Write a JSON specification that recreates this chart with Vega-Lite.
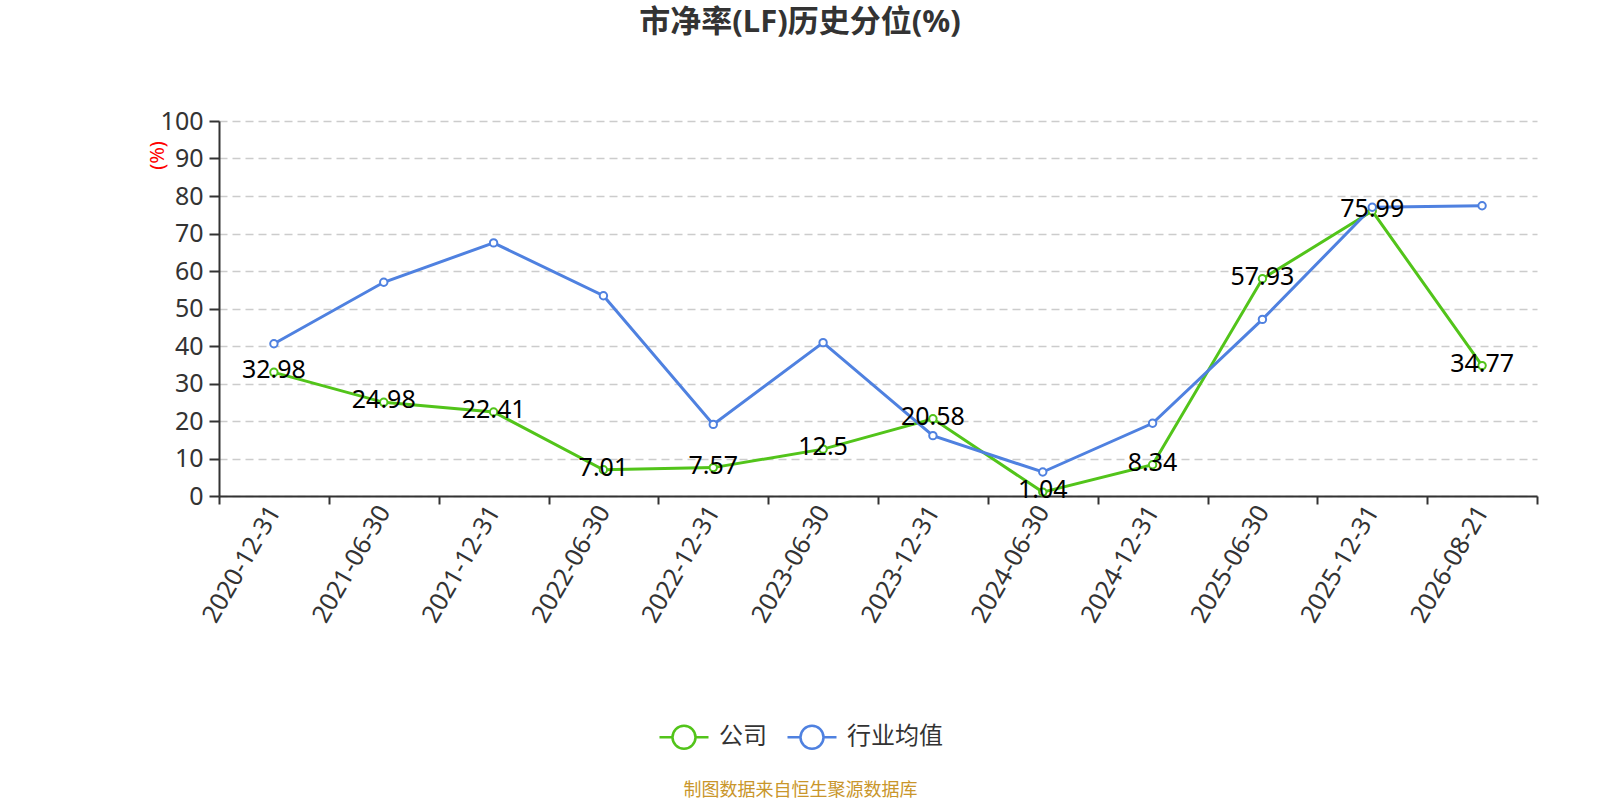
{
  "$schema": "https://vega.github.io/schema/vega-lite/v6.json",
  "width": 1318,
  "height": 375,
  "autosize": {"type": "none"},
  "padding": {"left": 219, "top": 121, "right": 63, "bottom": 304},
  "background": "#ffffff",
  "config": {
    "font": "Noto Sans, Noto Sans CJK SC, sans-serif",
    "view": {"stroke": null}
  },
  "title": {
    "text": "市净率(LF)历史分位(%)",
    "anchor": "middle",
    "frame": "group",
    "dx": -78,
    "offset": 70,
    "fontSize": 31,
    "fontWeight": "bold",
    "color": "#333333"
  },
  "data": {
    "values": [
      {"date": "2020-12-31", "series": "公司", "value": 32.98},
      {"date": "2021-06-30", "series": "公司", "value": 24.98},
      {"date": "2021-12-31", "series": "公司", "value": 22.41},
      {"date": "2022-06-30", "series": "公司", "value": 7.01},
      {"date": "2022-12-31", "series": "公司", "value": 7.57},
      {"date": "2023-06-30", "series": "公司", "value": 12.5},
      {"date": "2023-12-31", "series": "公司", "value": 20.58},
      {"date": "2024-06-30", "series": "公司", "value": 1.04},
      {"date": "2024-12-31", "series": "公司", "value": 8.34},
      {"date": "2025-06-30", "series": "公司", "value": 57.93},
      {"date": "2025-12-31", "series": "公司", "value": 75.99},
      {"date": "2026-08-21", "series": "公司", "value": 34.77},
      {"date": "2020-12-31", "series": "行业均值", "value": 40.6},
      {"date": "2021-06-30", "series": "行业均值", "value": 57.0},
      {"date": "2021-12-31", "series": "行业均值", "value": 67.5},
      {"date": "2022-06-30", "series": "行业均值", "value": 53.4},
      {"date": "2022-12-31", "series": "行业均值", "value": 19.1},
      {"date": "2023-06-30", "series": "行业均值", "value": 40.9},
      {"date": "2023-12-31", "series": "行业均值", "value": 16.1},
      {"date": "2024-06-30", "series": "行业均值", "value": 6.4},
      {"date": "2024-12-31", "series": "行业均值", "value": 19.4},
      {"date": "2025-06-30", "series": "行业均值", "value": 47.1},
      {"date": "2025-12-31", "series": "行业均值", "value": 77.0},
      {"date": "2026-08-21", "series": "行业均值", "value": 77.4}
    ]
  },
  "encoding": {
    "x": {
      "field": "date",
      "type": "ordinal",
      "sort": null,
      "bandPosition": 0.5,
      "scale": {"type": "band", "paddingInner": 0, "paddingOuter": 0},
      "axis": {
        "title": "制图数据来自恒生聚源数据库",
        "titleColor": "#c9962b",
        "titleFontSize": 18,
        "titleFontWeight": "normal",
        "titleX": 581,
        "titleY": 294,
        "titleAlign": "center",
        "titleBaseline": "middle",
        "labelAngle": -60,
        "labelFontSize": 25,
        "labelColor": "#333333",
        "labelPadding": 3,
        "tickBand": "extent",
        "tickSize": 8,
        "tickWidth": 2,
        "tickColor": "#333333",
        "domainColor": "#333333",
        "domainWidth": 2,
        "grid": false
      }
    },
    "y": {
      "field": "value",
      "type": "quantitative",
      "scale": {"domain": [0, 100], "nice": false},
      "axis": {
        "values": [0, 10, 20, 30, 40, 50, 60, 70, 80, 90, 100],
        "title": "(%)",
        "titleColor": "#ff0000",
        "titleFontSize": 20,
        "titleFontWeight": "normal",
        "titleAngle": -90,
        "titleX": -62,
        "titleY": 34,
        "titleAlign": "center",
        "titleBaseline": "middle",
        "labelFontSize": 25,
        "labelColor": "#333333",
        "labelPadding": 6,
        "tickSize": 10,
        "tickWidth": 2,
        "tickColor": "#333333",
        "domainColor": "#333333",
        "domainWidth": 2,
        "grid": true,
        "gridColor": "#cccccc",
        "gridWidth": 1.5,
        "gridDash": [8, 5]
      }
    }
  },
  "layer": [
    {
      "mark": {
        "type": "line",
        "strokeWidth": 3,
        "point": {"filled": false, "fill": "#ffffff", "size": 55, "strokeWidth": 2}
      },
      "encoding": {
        "color": {
          "field": "series",
          "type": "nominal",
          "scale": {"domain": ["公司", "行业均值"], "range": ["#52c41a", "#4f81e0"]},
          "legend": {
            "title": null,
            "orient": "none",
            "direction": "horizontal",
            "legendX": 439,
            "legendY": 590,
            "symbolType": "M-1,0L-0.47,0M0.47,0L1,0M0.47,0A0.47,0.47,0,1,1,-0.47,0A0.47,0.47,0,1,1,0.47,0",
            "symbolSize": 2401,
            "symbolStrokeWidth": 2.5,
            "symbolFillColor": "#ffffff",
            "labelFontSize": 24,
            "labelColor": "#333333",
            "labelOffset": 9,
            "columnPadding": 15
          }
        }
      }
    },
    {
      "transform": [{"filter": "datum.series === '公司'"}],
      "mark": {"type": "text", "fontSize": 25, "color": "#000000", "baseline": "middle", "dy": -2},
      "encoding": {"text": {"field": "value", "type": "quantitative"}}
    }
  ]
}
